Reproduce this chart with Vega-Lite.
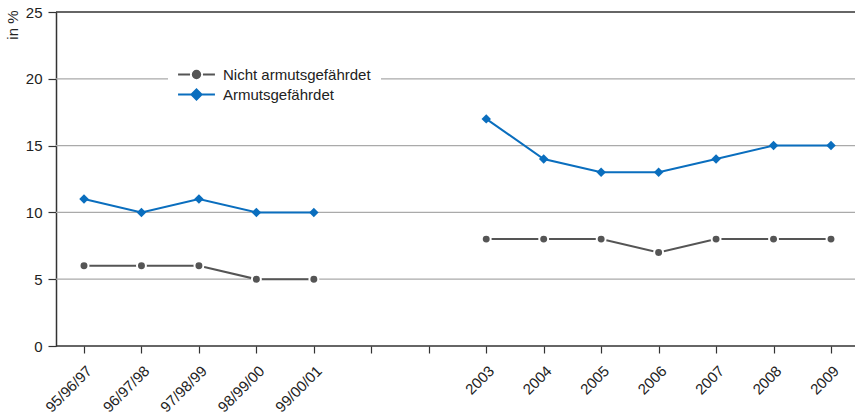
{
  "$schema": "https://vega.github.io/schema/vega-lite/v6.json",
  "width": 799,
  "height": 334,
  "autosize": {"type": "none"},
  "padding": {"left": 56, "top": 12, "right": 0, "bottom": 71},
  "background": "white",
  "config": {
    "view": {"stroke": null},
    "font": "Liberation Sans",
    "axis": {"labelFont": "Liberation Sans", "titleFont": "Liberation Sans", "labelColor": "#222", "titleColor": "#222"}
  },
  "data": {
    "values": [
      {"cat": "95/96/97", "period": "A", "series": "Nicht armutsgefährdet", "value": 6},
      {"cat": "96/97/98", "period": "A", "series": "Nicht armutsgefährdet", "value": 6},
      {"cat": "97/98/99", "period": "A", "series": "Nicht armutsgefährdet", "value": 6},
      {"cat": "98/99/00", "period": "A", "series": "Nicht armutsgefährdet", "value": 5},
      {"cat": "99/00/01", "period": "A", "series": "Nicht armutsgefährdet", "value": 5},
      {"cat": "2003", "period": "B", "series": "Nicht armutsgefährdet", "value": 8},
      {"cat": "2004", "period": "B", "series": "Nicht armutsgefährdet", "value": 8},
      {"cat": "2005", "period": "B", "series": "Nicht armutsgefährdet", "value": 8},
      {"cat": "2006", "period": "B", "series": "Nicht armutsgefährdet", "value": 7},
      {"cat": "2007", "period": "B", "series": "Nicht armutsgefährdet", "value": 8},
      {"cat": "2008", "period": "B", "series": "Nicht armutsgefährdet", "value": 8},
      {"cat": "2009", "period": "B", "series": "Nicht armutsgefährdet", "value": 8},
      {"cat": "95/96/97", "period": "A", "series": "Armutsgefährdet", "value": 11},
      {"cat": "96/97/98", "period": "A", "series": "Armutsgefährdet", "value": 10},
      {"cat": "97/98/99", "period": "A", "series": "Armutsgefährdet", "value": 11},
      {"cat": "98/99/00", "period": "A", "series": "Armutsgefährdet", "value": 10},
      {"cat": "99/00/01", "period": "A", "series": "Armutsgefährdet", "value": 10},
      {"cat": "2003", "period": "B", "series": "Armutsgefährdet", "value": 17},
      {"cat": "2004", "period": "B", "series": "Armutsgefährdet", "value": 14},
      {"cat": "2005", "period": "B", "series": "Armutsgefährdet", "value": 13},
      {"cat": "2006", "period": "B", "series": "Armutsgefährdet", "value": 13},
      {"cat": "2007", "period": "B", "series": "Armutsgefährdet", "value": 14},
      {"cat": "2008", "period": "B", "series": "Armutsgefährdet", "value": 15},
      {"cat": "2009", "period": "B", "series": "Armutsgefährdet", "value": 15}
    ]
  },
  "encoding": {
    "x": {
      "field": "cat",
      "type": "ordinal",
      "sort": null,
      "scale": {
        "type": "point",
        "domain": ["95/96/97", "96/97/98", "97/98/99", "98/99/00", "99/00/01", " ", "  ", "2003", "2004", "2005", "2006", "2007", "2008", "2009"],
        "range": [28, 775],
        "padding": 0
      },
      "axis": {
        "title": null,
        "domain": false,
        "labelAngle": -45,
        "labelAlign": "right",
        "labelBaseline": "top",
        "labelFontSize": 15,
        "labelPadding": 10,
        "tickSize": 7,
        "tickColor": "#333",
        "tickWidth": 1.2,
        "grid": false
      }
    },
    "y": {
      "field": "value",
      "type": "quantitative",
      "scale": {"domain": [0, 25], "nice": false, "zero": true},
      "axis": {
        "title": "in %",
        "titleAngle": -90,
        "titleAlign": "right",
        "titleBaseline": "middle",
        "titleX": -43.5,
        "titleY": -2,
        "titleFontSize": 15,
        "titleFontWeight": "normal",
        "values": [0, 5, 10, 15, 20, 25],
        "labelFontSize": 15,
        "labelPadding": 6,
        "tickSize": 8,
        "tickColor": "#333",
        "tickWidth": 1.2,
        "domainColor": "#333",
        "domainWidth": 1.5,
        "grid": false
      }
    }
  },
  "layer": [
    {
      "data": {"values": [{"v": 5}, {"v": 10}, {"v": 15}, {"v": 20}]},
      "mark": {"type": "rule", "color": "#aaaaaa", "strokeWidth": 1.2},
      "encoding": {"x": null, "y": {"field": "v", "type": "quantitative"}}
    },
    {
      "data": {"values": [{"v": 0}, {"v": 25}]},
      "mark": {"type": "rule", "color": "#333333", "strokeWidth": 1.6},
      "encoding": {"x": null, "y": {"field": "v", "type": "quantitative"}}
    },
    {
      "mark": {"type": "line", "strokeWidth": 2},
      "encoding": {
        "detail": {"field": "period"},
        "color": {
          "field": "series",
          "type": "nominal",
          "scale": {"domain": ["Nicht armutsgefährdet", "Armutsgefährdet"], "range": ["#555555", "#0a6ebe"]},
          "legend": {
            "title": null,
            "orient": "none",
            "legendX": 112,
            "legendY": 45,
            "fillColor": "white",
            "padding": 10,
            "labelFont": "Liberation Sans",
            "labelFontSize": 15,
            "labelColor": "#222",
            "symbolSize": 85,
            "symbolStrokeWidth": 2,
            "symbolOffset": 11,
            "labelOffset": 19,
            "rowPadding": 2,
            "encode": {
              "symbols": {
                "update": {
                  "shape": {"signal": "datum.value === 'Armutsgefährdet' ? 'M-4,0H4M0,-1.1L1.1,0L0,1.1L-1.1,0Z' : 'M-4,0H-1.4M1.4,0H4M-0.8,0A0.8,0.8,0,1,1,0.8,0A0.8,0.8,0,1,1,-0.8,0Z'"},
                  "fill": {"signal": "scale('color', datum.value)"},
                  "stroke": {"signal": "scale('color', datum.value)"},
                  "strokeWidth": {"value": 2},
                  "size": {"value": 85},
                  "opacity": {"value": 1}
                }
              }
            }
          }
        }
      }
    },
    {
      "mark": {"type": "point", "filled": true, "opacity": 1, "stroke": "white"},
      "encoding": {
        "color": {"field": "series", "type": "nominal", "legend": null},
        "shape": {"condition": {"test": "datum.series === 'Armutsgefährdet'", "value": "diamond"}, "value": "circle"},
        "size": {"condition": {"test": "datum.series === 'Armutsgefährdet'", "value": 90}, "value": 80},
        "strokeWidth": {"condition": {"test": "datum.series === 'Armutsgefährdet'", "value": 0}, "value": 2}
      }
    }
  ]
}
